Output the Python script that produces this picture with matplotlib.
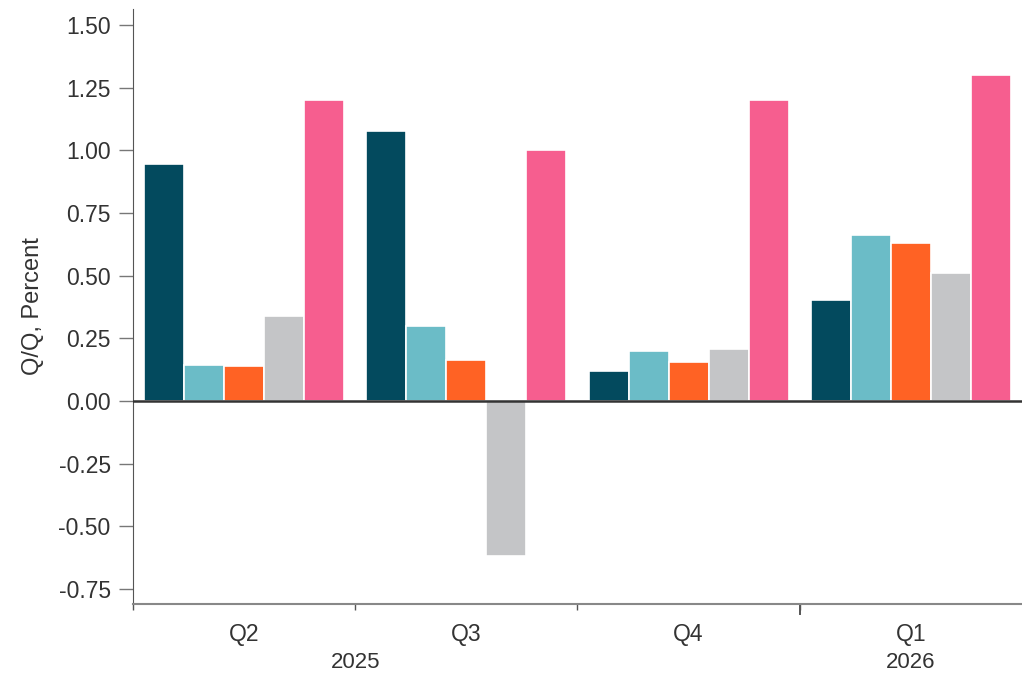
import matplotlib.pyplot as plt
import numpy as np

plt.rcParams["font.family"] = ["Liberation Sans", "DejaVu Sans"]
plt.rcParams["axes.unicode_minus"] = False

# data
quarters = ["Q2", "Q3", "Q4", "Q1"]
years = ["2025", "2026"]
series_a = [0.945, 1.077, 0.120, 0.403]
series_b = [0.144, 0.300, 0.200, 0.662]
series_c = [0.140, 0.163, 0.157, 0.630]
series_d = [0.340, -0.620, 0.209, 0.511]
series_e = [1.200, 1.000, 1.200, 1.300]
colors = ["#034a5e", "#6bbcc7", "#ff6224", "#c4c5c7", "#f65e8f"]

fig = plt.figure(figsize=(10.22, 6.74), dpi=100)
ax = fig.add_axes([0.130, 0.104, 0.870, 0.883])

x = np.arange(len(quarters))
pitch = 0.18
all_series = [series_a, series_b, series_c, series_d, series_e]
for i, vals in enumerate(all_series):
    ax.bar(x + (i - 2) * pitch, vals, width=pitch, color=colors[i],
           edgecolor="white", linewidth=1.2, zorder=2)

ax.axhline(0, color="#333333", linewidth=1.8, zorder=3)

ax.set_xlim(-0.5, 3.5)
ax.set_ylim(-0.81, 1.565)
ticks = np.arange(-0.75, 1.51, 0.25)
ax.set_yticks(ticks)
ax.set_yticklabels([f"{v:.2f}" for v in ticks])
ax.tick_params(axis="y", direction="out", length=10, width=1, color="#777777",
               labelsize=16.5, labelcolor="#333333", pad=6)

# group boundaries as ticks, labels as minor ticks
ax.set_xticks([-0.5, 0.5, 1.5, 2.5])
ax.set_xticklabels([])
ax.tick_params(axis="x", which="major", direction="out", length=4, width=1,
               color="#555555")
ax.set_xticks(x, minor=True)
ax.set_xticklabels(quarters, minor=True)
ax.tick_params(axis="x", which="minor", length=0, labelsize=16.5,
               labelcolor="#333333", pad=14)
# longer tick at the year break
ax.plot([2.5, 2.5], [0, -0.017], transform=ax.get_xaxis_transform(),
        color="#555555", linewidth=1.4, clip_on=False)

for xpos, yr in zip([0.5, 3.0], years):
    ax.text(xpos, -0.108, yr, transform=ax.get_xaxis_transform(),
            ha="center", va="baseline", fontsize=16, color="#333333")

ax.set_ylabel("Q/Q, Percent", fontsize=17, color="#333333", labelpad=10)

for s in ["top", "right"]:
    ax.spines[s].set_visible(False)
ax.spines["left"].set_color("#555555")
ax.spines["bottom"].set_color("#888888")
ax.spines["bottom"].set_linewidth(1.5)

fig.savefig("out.png", dpi=100)
